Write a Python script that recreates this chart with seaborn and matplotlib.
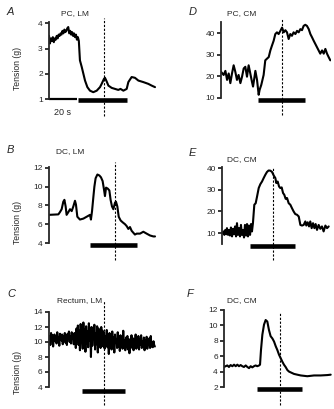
import numpy as np
import pandas as pd
import matplotlib
matplotlib.use('Agg')
import matplotlib.pyplot as plt
import seaborn as sns

sns.set_style('ticks')
plt.rcParams['font.family'] = ['Liberation Sans', 'DejaVu Sans']

# A: PC, LM (tension in g, time in s)
a_time = [0, 0.7, 1.4, 2.1, 2.8, 3.5, 4.2, 4.9, 5.6, 6.3, 7.0, 7.7, 8.4, 9.1, 9.8, 10.5,
          11.2, 11.9, 12.6, 13.3, 14.0, 14.7, 15.4, 16.1, 16.8, 17.5, 18.2, 18.9, 19.6,
          20.3, 21.0, 21.7, 22.5, 23.8, 25.0, 26.2, 27.9, 29.8, 32.2, 34.7, 37.1, 38.3,
          40.0, 40.7, 41.9, 43.2, 45.6, 48.0, 50.4, 52.0, 54.1, 56.5, 57.7, 60.1, 62.5,
          65.0, 68.6, 72.2, 74.7, 77.1]
a_tension = [3.5, 3.2, 3.4, 3.3, 3.45, 3.25, 3.4, 3.35, 3.5, 3.4, 3.55, 3.5, 3.6, 3.55, 3.7,
             3.6, 3.75, 3.65, 3.7, 3.8, 3.85, 3.6, 3.7, 3.55, 3.65, 3.5, 3.6, 3.45, 3.55,
             3.35, 3.45, 3.3, 2.53, 2.27, 2.0, 1.73, 1.47, 1.33, 1.27, 1.33, 1.47, 1.6,
             1.8, 1.84, 1.7, 1.53, 1.44, 1.4, 1.36, 1.4, 1.33, 1.4, 1.67, 1.87, 1.84,
             1.73, 1.67, 1.6, 1.53, 1.47]

# D: PC, CM
d_time = [0, 1.9, 3.2, 4.4, 5.6, 6.8, 8.0, 9.2, 10.4, 11.6, 12.8, 14.1, 15.3, 16.5, 17.7,
          18.9, 20.1, 21.3, 22.5, 23.3, 24.2, 25.0, 26.2, 27.4, 28.1, 29.3, 31.0, 32.2,
          33.5, 34.7, 35.9, 37.1, 38.3, 39.5, 40.7, 41.9, 43.2, 44.4, 45.6, 46.8, 48.0,
          49.2, 50.4, 51.6, 52.8, 54.1, 55.3, 56.5, 57.7, 58.9, 60.1, 61.3, 62.5, 63.8,
          65.0, 66.2, 67.4, 68.6, 69.8, 71.0, 72.2, 73.5, 74.7, 75.9, 77.1, 78.3, 79.5]
d_tension = [22.2, 20.7, 22.6, 18.4, 21.4, 16.9, 21.4, 25.2, 22.2, 18.4, 20.7, 16.9, 19.9,
             23.7, 24.5, 19.9, 25.2, 21.4, 17.6, 15.3, 19.1, 22.6, 18.4, 11.5, 13.8, 16.1,
             20.7, 27.5, 28.3, 29.0, 32.1, 34.4, 36.6, 39.7, 40.5, 39.7, 41.2, 42.7, 40.5,
             41.5, 40.5, 37.4, 39.7, 38.9, 40.5, 39.7, 41.2, 40.5, 42.0, 41.5, 43.5, 44.0,
             43.5, 42.0, 39.7, 38.2, 36.6, 35.1, 33.6, 32.1, 30.6, 32.1, 30.6, 32.8, 30.6,
             29.0, 27.5]

# B: DC, LM
b_time = [0, 6.8, 8.0, 9.2, 10.4, 11.2, 12.1, 12.8, 14.1, 15.3, 16.5, 17.7, 18.9, 19.6,
          20.6, 22.5, 25.0, 27.4, 29.8, 30.5, 31.3, 32.2, 33.0, 33.9, 35.2, 36.6, 37.8,
          39.0, 40.0, 40.7, 41.5, 42.7, 43.9, 44.8, 45.8, 46.8, 48.0, 48.7, 49.7, 50.7,
          52.1, 53.6, 55.3, 56.5, 57.7, 58.9, 60.1, 61.3, 62.5, 63.8, 66.2, 68.6, 71.0,
          73.5, 75.9, 77.1]
b_tension = [7.0, 7.05, 7.3, 7.6, 8.4, 8.6, 7.9, 7.0, 7.3, 7.6, 7.4, 7.9, 8.5, 8.1, 6.8,
             6.5, 6.6, 6.8, 7.0, 6.5, 7.4, 8.8, 10.0, 10.9, 11.3, 11.2, 11.0, 10.6, 9.7,
             9.0, 9.9, 9.8, 9.6, 8.6, 7.9, 7.6, 8.3, 8.4, 7.9, 6.8, 6.4, 6.2, 6.0, 5.8, 5.5,
             5.7, 5.3, 5.1, 4.9, 5.0, 5.0, 5.2, 5.0, 4.8, 4.7, 4.7]

# E: DC, CM
e_time = [0.0, 1.2, 1.7, 2.4, 3.2, 3.6, 4.4, 5.1, 5.8, 6.5, 7.3, 8.0, 8.7, 9.5, 10.2, 10.9,
          11.6, 12.4, 13.1, 13.8, 14.5, 15.3, 16.0, 16.7, 17.5, 18.2, 18.9, 19.6, 20.4,
          21.1, 21.8, 22.5, 23.5, 24.5, 25.5, 26.7, 27.9, 29.1, 30.3, 31.5, 32.7, 33.9,
          35.2, 36.4, 37.6, 38.8, 39.5, 40.5, 41.5, 42.4, 43.4, 44.4, 45.3, 46.3, 47.3,
          48.5, 49.7, 50.9, 52.1, 53.3, 54.5, 55.8, 57.0, 58.2, 59.4, 60.6, 61.3, 62.3,
          63.3, 64.2, 65.2, 66.2, 67.2, 68.1, 69.1, 70.3, 71.5, 72.7, 73.9, 75.2, 76.4, 77.6]
e_tension = [10.0, 10.8, 9.2, 11.5, 9.5, 12.3, 9.2, 11.5, 8.9, 12.6, 8.5, 12.0, 9.5, 13.1,
             8.5, 14.6, 9.2, 12.3, 8.5, 13.8, 9.2, 11.5, 8.0, 13.8, 8.9, 14.2, 8.5, 13.5,
             9.2, 14.2, 10.8, 14.6, 23.1, 23.8, 26.9, 30.8, 32.6, 33.8, 35.4, 36.9, 38.2,
             38.9, 38.8, 38.2, 36.6, 35.4, 33.1, 33.8, 31.5, 30.8, 31.1, 28.5, 27.7, 25.8,
             26.2, 23.8, 23.1, 21.5, 20.0, 18.8, 18.5, 17.7, 13.8, 13.5, 13.8, 15.4, 13.5,
             15.0, 13.1, 15.4, 12.3, 14.6, 12.3, 14.2, 11.5, 13.8, 12.0, 13.1, 10.8, 13.5,
             12.3, 13.1]

# C: Rectum, LM (sampled every 0.5 s)
c_dt = 0.5
c_tension = [10.2, 10.8, 9.6, 11.2, 10.4, 10.9, 9.4, 10.6, 11.0, 10.1,
             10.7, 9.8, 11.3, 10.3, 10.6, 9.5, 11.1, 10.5, 10.2, 11.0,
             9.7, 10.8, 10.4, 11.2, 9.9,
             10.9, 9.6, 11.1, 10.5, 11.4, 10.0, 10.7, 9.8, 11.3, 10.4,
             10.9, 9.7, 11.2, 10.6,
             9.2, 11.8, 10.1, 12.2, 9.6, 11.5, 8.9, 12.4, 10.3, 11.0,
             9.1, 12.6, 10.0, 11.7, 8.7, 12.1, 9.8, 11.4, 9.3, 12.5,
             10.2, 11.9, 8.0, 12.0, 9.5, 11.6, 10.4, 12.3, 9.0, 11.2,
             9.7, 12.1, 8.6, 11.8, 9.9, 11.3, 9.2, 12.0, 10.1, 11.5, 9.4,
             11.3, 9.1, 10.8, 9.6, 11.6, 9.3, 10.5, 8.4, 11.2, 9.8,
             10.9, 9.0, 11.4, 9.5, 10.6, 8.6, 11.0, 9.9, 10.4, 9.2,
             11.3, 9.4, 10.7, 8.8, 10.9, 9.7, 10.3, 9.1, 11.5, 9.6,
             10.2, 8.9, 10.6, 9.3, 10.8, 9.0, 10.4, 8.5, 10.1, 9.4,
             10.9, 9.2, 10.5, 8.9, 10.3, 9.5, 11.0, 9.1, 10.6, 9.3,
             10.8, 9.0, 10.4, 9.6, 10.9, 9.2, 10.1, 9.4, 10.6, 8.9,
             10.2, 9.3, 10.7, 9.1, 10.0, 9.6, 10.5, 9.2, 10.8, 9.4,
             9.9, 9.3, 10.1, 9.6, 9.4]
c_time = np.arange(len(c_tension)) * c_dt

# F: DC, CM
f_time = [0, 2.4, 3.6, 4.8, 6.1, 7.3, 8.5, 9.7, 10.9, 12.1, 13.3, 14.5, 15.8, 17.0, 18.2,
          19.4, 20.6, 21.8, 23.0, 24.2, 25.5, 26.2, 26.9, 27.9, 29.1, 30.3, 31.5, 32.7,
          33.9, 35.2, 36.4, 37.6, 38.8, 40.0, 41.2, 42.4, 43.6, 44.8, 46.1, 47.3, 48.5,
          50.9, 53.3, 55.8, 60.6, 65.5, 70.3, 75.2, 77.6]
f_tension = [4.6, 4.8, 4.6, 4.85, 4.7, 4.9, 4.7, 4.9, 4.7, 4.85, 4.7, 4.6, 4.8, 4.6, 4.45,
             4.7, 4.55, 4.7, 4.8, 4.7, 4.8, 4.9, 6.8, 8.8, 10.1, 10.7, 10.5, 9.4, 8.6, 8.3,
             7.9, 7.3, 6.8, 6.2, 5.75, 5.3, 4.9, 4.6, 4.2, 4.0, 3.9, 3.7, 3.6, 3.5, 3.4,
             3.5, 3.5, 3.55, 3.6]

# stimulus bars (start, end in s) and dashed time marks (s)
a_bar, a_mark = (21, 57), 40
d_bar, d_mark = (27, 61), 44
b_bar, b_mark = (30, 64), 48
e_bar, e_mark = (20, 53), 37
c_bar, c_mark = (24, 55), 40
f_bar, f_mark = (24, 57), 41

W, H = 334, 409
fig = plt.figure(figsize=(W / 100, H / 100), dpi=100)


def rect(left, top, bottom, width=110):
    return [left / W, 1 - bottom / H, width / W, (bottom - top) / H]


panels = [
    # letter, title, time, tension, ylim, yticks, bar, mark, rect, bar_y, mark span, letter xy, title xy, ylabel y
    ('A', 'PC, LM', a_time, a_tension, (1, 4.05), [1, 2, 3, 4], a_bar, a_mark,
     rect(49, 22, 99), -0.013, (-0.22, 1.05), (7, 15), (75, 15), 68),
    ('D', 'PC, CM', d_time, d_tension, (10, 45.3), [10, 20, 30, 40], d_bar, d_mark,
     rect(221, 22, 98), -0.026, (-0.22, 1.05), (189, 15), (242, 15), None),
    ('B', 'DC, LM', b_time, b_tension, (4, 12.1), [4, 6, 8, 10, 12], b_bar, b_mark,
     rect(49, 167, 243), -0.026, (-0.22, 1.07), (7, 153), (70, 153), 222),
    ('E', 'DC, CM', e_time, e_tension, (5, 40.5), [10, 20, 30, 40], e_bar, e_mark,
     rect(222, 167, 244), -0.026, (-0.21, 1.0), (189, 156), (242, 161), None),
    ('C', 'Rectum, LM', c_time, c_tension, (4, 14), [4, 6, 8, 10, 12, 14], c_bar, c_mark,
     rect(49, 312, 387), -0.053, (-0.24, 1.15), (7, 297), (80, 302), 372),
    ('F', 'DC, CM', f_time, f_tension, (2, 12), [2, 4, 6, 8, 10, 12], f_bar, f_mark,
     rect(224, 310, 387), -0.026, (-0.23, 0.96), (187, 297), (242, 302), None),
]

for (letter, title, t, v, ylim, yticks, bar, mark, r, bar_y, span,
     lxy, txy, ylab) in panels:
    ax = fig.add_axes(r)
    ax.patch.set_alpha(0)
    df = pd.DataFrame({'time': t, 'tension': v})
    sns.lineplot(data=df, x='time', y='tension', ax=ax, color='black',
                 lw=1.5, estimator=None, sort=False)
    ax.set_xlim(0, 80)
    ax.set_ylim(*ylim)
    ax.set_yticks(yticks)
    ax.set_xticks([])
    ax.set_xlabel('')
    ax.set_ylabel('')
    sns.despine(ax=ax, bottom=True)
    ax.spines['left'].set_linewidth(1.3)
    ax.tick_params(axis='y', length=3, width=1.3, labelsize=6, pad=1.5)
    ax.plot(bar, [bar_y, bar_y], transform=ax.get_xaxis_transform(), color='black',
            lw=3.3, solid_capstyle='butt', clip_on=False)
    ax.axvline(mark, ymin=span[0], ymax=span[1], color='black', lw=0.8,
               ls=(0, (2, 1.5)), clip_on=False)
    fig.text(lxy[0] / W, 1 - lxy[1] / H, letter, style='italic', fontsize=8)
    fig.text(txy[0] / W, 1 - txy[1] / H, title, ha='center', fontsize=6)
    if ylab is not None:
        fig.text(17 / W, 1 - ylab / H, 'Tension (g)', rotation=90,
                 ha='center', va='center', fontsize=6.2)
    if letter == 'A':
        # 20 s scale bar
        ax.plot([0, 20], [0, 0], transform=ax.get_xaxis_transform(), color='black',
                lw=1.6, solid_capstyle='butt', clip_on=False)
        ax.text(10, -0.12, '20 s', transform=ax.get_xaxis_transform(),
                ha='center', va='top', fontsize=6.5)

fig.savefig('out.png', dpi=100)
